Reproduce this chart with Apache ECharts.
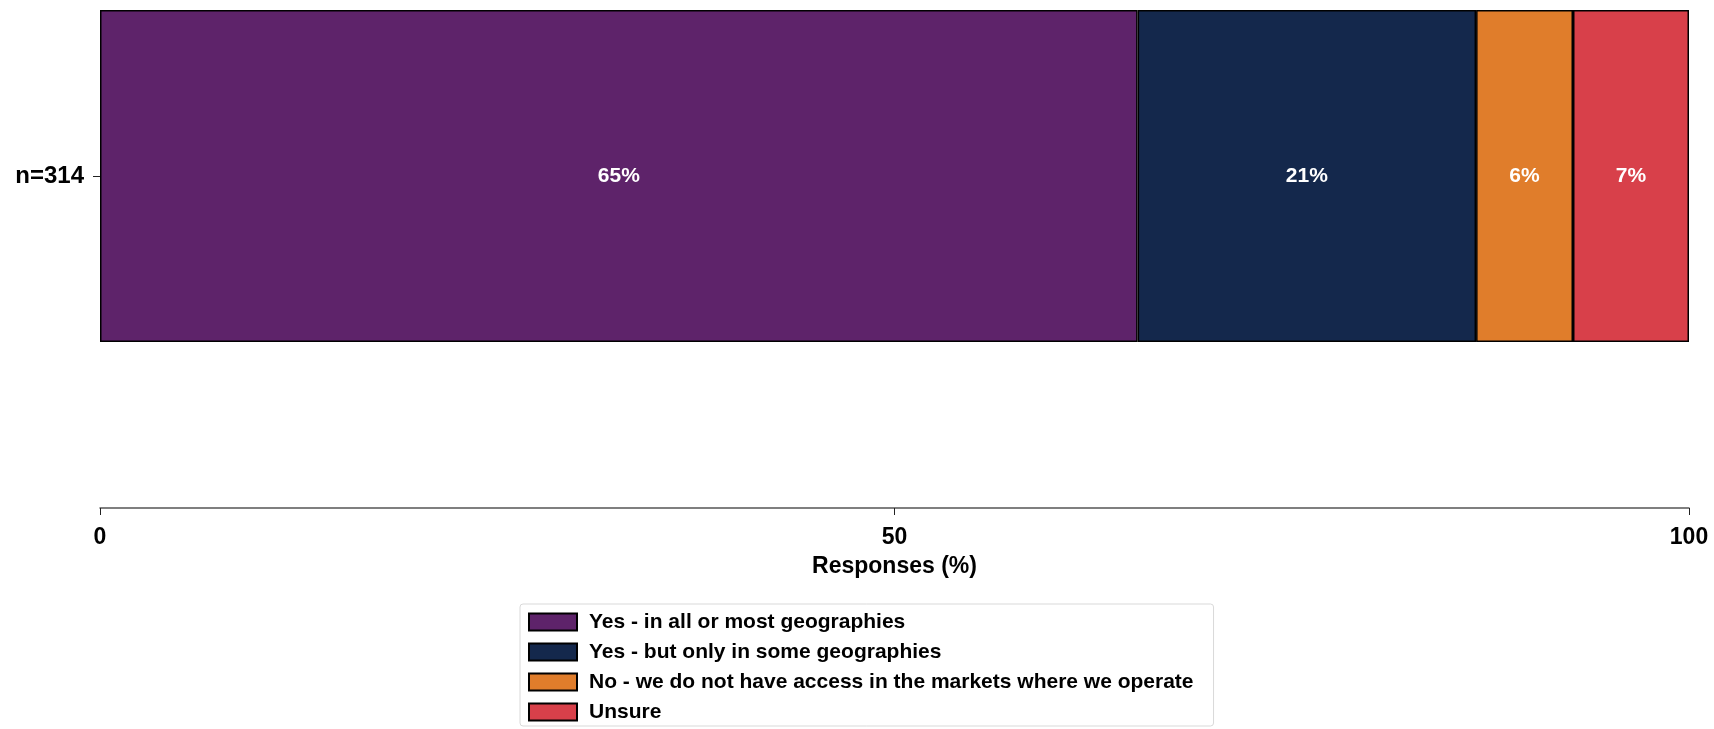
<!DOCTYPE html>
<html>
<head>
<meta charset="utf-8">
<style>
  html, body { margin: 0; padding: 0; background: #ffffff; }
  #chart { width: 1714px; height: 729px; }
</style>
<script src="https://cdn.jsdelivr.net/npm/echarts@6/dist/echarts.min.js"></script>
</head>
<body>
<div id="chart"></div>
<script>
// Survey responses (share of n=314), one stacked bar
const categories = ['n=314'];
const seriesNames = [
  'Yes - in all or most geographies',
  'Yes - but only in some geographies',
  'No - we do not have access in the markets where we operate',
  'Unsure'
];
const seriesValues = [
  [65.3],
  [21.3],
  [6.1],
  [7.3]
];
const seriesColors = ['#5e236a', '#14284c', '#e07d2b', '#d8404a'];
const xTicks = [0, 50, 100];

const FONT = '"Liberation Sans", Arial, sans-serif';

const chart = echarts.init(document.getElementById('chart'), null, { renderer: 'canvas' });

const series = seriesNames.map((name, i) => ({
  name: name,
  type: 'bar',
  stack: 'total',
  barWidth: '100%',
  data: seriesValues[i],
  itemStyle: {
    color: seriesColors[i],
    borderColor: '#000000',
    borderWidth: 1.5
  },
  label: {
    show: true,
    position: 'inside',
    color: '#ffffff',
    fontFamily: FONT,
    fontWeight: 'bold',
    fontSize: 21,
    formatter: p => Math.round(p.value) + '%'
  },
  emphasis: { disabled: true }
}));

chart.setOption({
  animation: false,
  grid: { left: 100, right: 25, top: 10, height: 332 },
  xAxis: {
    type: 'value',
    min: xTicks[0],
    max: xTicks[xTicks.length - 1],
    interval: 50,
    offset: 166,
    name: 'Responses (%)',
    nameLocation: 'middle',
    nameGap: 47,
    nameTextStyle: { fontFamily: FONT, fontWeight: 'bold', fontSize: 23, color: '#000' },
    axisLine: { show: true, lineStyle: { color: '#555555', width: 1.5 } },
    axisTick: { show: true, length: 7, lineStyle: { color: '#222222', width: 1 } },
    axisLabel: {
      margin: 18,
      fontFamily: FONT, fontWeight: 'bold', fontSize: 23, color: '#000',
      formatter: v => xTicks.includes(v) ? String(v) : ''
    },
    splitLine: { show: false }
  },
  yAxis: {
    type: 'category',
    data: categories,
    axisLine: { show: false },
    axisTick: { show: true, alignWithLabel: true, length: 7, lineStyle: { color: '#222222' } },
    axisLabel: { margin: 16, fontFamily: FONT, fontWeight: 'bold', fontSize: 24, color: '#000' }
  },
  legend: {
    orient: 'vertical',
    left: 520,
    top: 604,
    padding: [7, 20, 3, 8],
    itemWidth: 48,
    itemHeight: 17,
    itemGap: 8,
    borderColor: '#d9d9d9',
    borderWidth: 1,
    borderRadius: 3,
    icon: 'rect',
    data: seriesNames,
    textStyle: {
      fontFamily: FONT, fontWeight: 'bold', fontSize: 21, color: '#000',
      lineHeight: 22, padding: [0, 0, 0, 7]
    }
  },
  series: series
});
</script>
</body>
</html>
